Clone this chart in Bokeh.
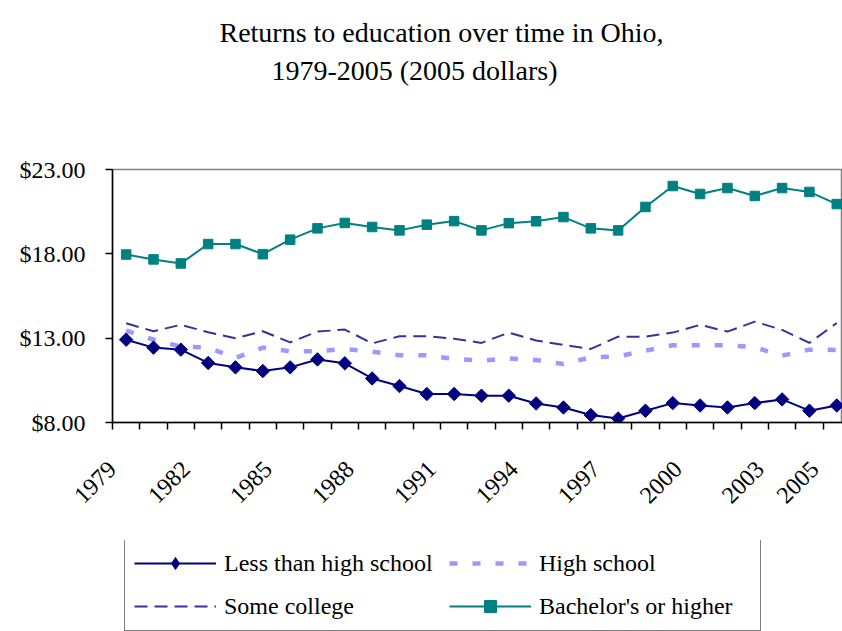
import numpy as np
from bokeh.plotting import figure
from bokeh.layouts import column
from bokeh.models import (Range1d, FixedTicker, Legend, LegendItem,
                          NumeralTickFormatter)
from bokeh.core.properties import value
from bokeh.embed import file_html
from bokeh.resources import INLINE

# ---------------- data ----------------
years = list(range(1979, 2006))
less_than_hs = [12.91, 12.44, 12.32, 11.53, 11.27, 11.05, 11.27, 11.74, 11.51, 10.61,
                10.16, 9.69, 9.69, 9.59, 9.59, 9.13, 8.89, 8.44, 8.24, 8.70,
                9.15, 9.01, 8.89, 9.15, 9.37, 8.70, 9.01]
high_school = [13.45, 12.91, 12.50, 12.44, 11.83, 12.44, 12.22, 12.22, 12.36, 12.20,
               11.98, 11.98, 11.77, 11.67, 11.80, 11.70, 11.47, 11.86, 11.92, 12.26,
               12.58, 12.58, 12.58, 12.46, 11.96, 12.32, 12.30]
some_college = [13.88, 13.41, 13.79, 13.35, 12.99, 13.41, 12.75, 13.39, 13.51, 12.69,
                13.11, 13.11, 12.97, 12.72, 13.33, 12.86, 12.60, 12.36, 13.09, 13.09,
                13.33, 13.79, 13.39, 13.98, 13.49, 12.72, 13.90]
bachelors = [17.96, 17.67, 17.43, 18.58, 18.58, 17.98, 18.84, 19.51, 19.83, 19.59,
             19.39, 19.73, 19.94, 19.39, 19.82, 19.93, 20.18, 19.51, 19.39, 20.78,
             22.02, 21.55, 21.90, 21.43, 21.90, 21.67, 20.95]
x_labels = ["1979", "1982", "1985", "1988", "1991", "1994", "1997", "2000", "2003", "2005"]
y_ticks = [8, 13, 18, 23]
title_lines = ["Returns to education over time in Ohio,", "1979-2005 (2005 dollars)"]
series_names = ["Less than high school", "High school", "Some college", "Bachelor's or higher"]

FONT = "Liberation Serif"
W = 842
LEFT = 112
H_TITLE, H_MAIN, H_LEG = 100, 440, 91

STY = {
    "lh": dict(line_color="#000080", line_width=2),
    "hs": dict(line_color="#9999FF", line_width=4.5, line_dash="8 15"),
    "sc": dict(line_color="#333399", line_width=2, line_dash="13 7"),
    "ba": dict(line_color="#008080", line_width=2),
}
MK = {
    "lh": dict(marker="square", angle=np.pi / 4, size=9.5, fill_color="#000080", line_color="#000080"),
    "ba": dict(marker="square", size=9.5, fill_color="#008080", line_color="#008080"),
}

# ---------------- title figure ----------------
pt = figure(width=W, height=H_TITLE, output_backend="svg", toolbar_location=None,
            x_range=Range1d(LEFT, W), y_range=Range1d(0, H_TITLE),
            x_axis_type=None, y_axis_type=None, min_border=0,
            min_border_left=LEFT, min_border_right=0)
pt.outline_line_color = None
pt.text(x=[441, 414], y=[H_TITLE - 32, H_TITLE - 70], text=title_lines,
        text_align="center", text_baseline="middle", text_font=value(FONT),
        text_font_size="28px", text_color="black")

# ---------------- main figure ----------------
x_start = years[0] - 0.5
x_end = years[-1] + 0.21

p = figure(width=W, height=H_MAIN, output_backend="svg", toolbar_location=None,
           x_range=Range1d(x_start, x_end), y_range=Range1d(8, 23),
           min_border_left=LEFT, min_border_right=0, min_border_top=69,
           min_border_bottom=118, background_fill_color="white",
           border_fill_color="white")
p.grid.visible = False
p.outline_line_color = "#808080"
p.outline_line_width = 1.5

label_pos = [min(max(int(s) - 0.8, x_start), x_end - 0.15) for s in x_labels]
p.xaxis.ticker = FixedTicker(ticks=label_pos,
                             minor_ticks=[y - 0.5 for y in years] + [years[-1] + 0.5])
p.xaxis.major_label_overrides = {pos: lab for pos, lab in zip(label_pos, x_labels)}
p.xaxis.major_label_orientation = np.pi / 4
p.xaxis.major_tick_line_color = None
p.xaxis.minor_tick_out = 7
p.xaxis.minor_tick_in = 0
p.xaxis.minor_tick_line_width = 1.5
p.xaxis.minor_tick_line_color = "black"
p.xaxis.major_label_standoff = 36
p.xaxis.major_label_text_font = FONT
p.xaxis.major_label_text_font_size = "24px"
p.xaxis.major_label_text_color = "black"
p.xaxis.axis_line_color = "black"
p.xaxis.axis_line_width = 1.5

p.yaxis.ticker = FixedTicker(ticks=y_ticks, minor_ticks=[])
p.yaxis.formatter = NumeralTickFormatter(format="$0.00")
p.yaxis.major_tick_out = 7
p.yaxis.major_tick_in = 0
p.yaxis.major_tick_line_width = 1.5
p.yaxis.major_label_standoff = 20
p.yaxis.major_label_text_font = FONT
p.yaxis.major_label_text_font_size = "24px"
p.yaxis.major_label_text_color = "black"
p.yaxis.axis_line_color = "black"
p.yaxis.axis_line_width = 1.5

p.line(years, high_school, **STY["hs"])
p.line(years, some_college, **STY["sc"])
p.line(years, less_than_hs, **STY["lh"])
p.scatter(years, less_than_hs, **MK["lh"])
p.line(years, bachelors, **STY["ba"])
p.scatter(years, bachelors, **MK["ba"])

# ---------------- legend figure ----------------
pl = figure(width=W, height=H_LEG, output_backend="svg", toolbar_location=None,
            x_range=Range1d(0, 1), y_range=Range1d(0, 1),
            x_axis_type=None, y_axis_type=None, min_border=0,
            min_border_left=LEFT, min_border_right=0)
pl.outline_line_color = None
# legend swatches only (NaN data: nothing drawn in the panel itself)
nan = [np.nan]
l_lh = pl.line(nan, nan, **STY["lh"])
m_lh = pl.scatter(nan, nan, marker="diamond", size=14,
                  fill_color="#000080", line_color="#000080")
l_hs = pl.line(nan, nan, **STY["hs"])
l_sc = pl.line(nan, nan, **STY["sc"])
l_ba = pl.line(nan, nan, **STY["ba"])
m_ba = pl.scatter(nan, nan, **MK["ba"])

# column-major fill: column 1 = first two items
legend = Legend(items=[
    LegendItem(label=series_names[0], renderers=[l_lh, m_lh]),
    LegendItem(label=series_names[2], renderers=[l_sc]),
    LegendItem(label=series_names[1], renderers=[l_hs]),
    LegendItem(label=series_names[3], renderers=[l_ba, m_ba]),
], ncols=2, location=(12, 0))
legend.label_text_font = FONT
legend.label_text_font_size = "24px"
legend.label_text_color = "black"
legend.glyph_width = 82
legend.glyph_height = 30
legend.label_height = 30
legend.label_width = 212
legend.label_standoff = 8
legend.spacing = 13
legend.padding = 9
legend.margin = 0
legend.border_line_color = "black"
legend.border_line_width = 1.5
legend.background_fill_color = "white"
legend.background_fill_alpha = 1.0
pl.add_layout(legend, "center")

layout = column(pt, p, pl, spacing=0)
open("out.html", "w").write(file_html(layout, INLINE))
